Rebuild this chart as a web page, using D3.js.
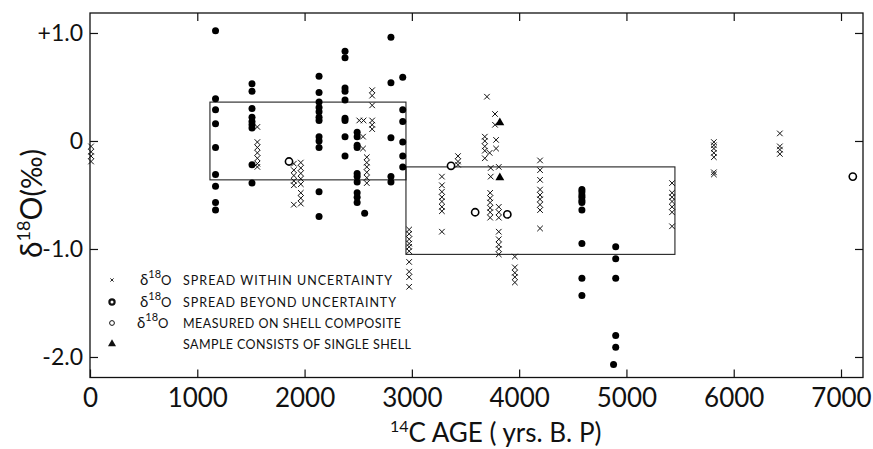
<!DOCTYPE html>
<html>
<head>
<meta charset="utf-8">
<script src="https://cdn.jsdelivr.net/npm/d3@7"></script>
<style>
  body { margin: 0; background: #fff; }
  svg text { font-family: Lato, "Open Sans", sans-serif; }
</style>
</head>
<body>
<svg id="chart" width="873" height="449"></svg>
<script>
// x: 14C age (yrs B.P.), y: delta 18O (permil)
const xTicks = [0, 1000, 2000, 3000, 4000, 5000, 6000, 7000];
const yTicks = [1, 0, -1, -2];
const yTickLabels = ['+1.0', '0', '-1.0', '-2.0'];

// x marks: spread within uncertainty
const spreadWithin = [
  [10, -0.05], [10, -0.10], [10, -0.14], [10, -0.19],
  [1560, 0.13], [1560, -0.01], [1560, -0.06], [1560, -0.11], [1560, -0.16], [1560, -0.21], [1560, -0.24],
  [1900, -0.21], [1900, -0.27], [1900, -0.32], [1900, -0.37], [1900, -0.41], [1900, -0.59],
  [1965, -0.20], [1965, -0.25], [1965, -0.30], [1965, -0.35], [1965, -0.40], [1965, -0.48], [1965, -0.53], [1965, -0.58],
  [2510, 0.19], [2550, 0.19], [2545, 0.04], [2545, -0.07],
  [2580, -0.15], [2580, -0.20], [2580, -0.24], [2580, -0.29], [2580, -0.34], [2580, -0.39],
  [2630, 0.47], [2630, 0.42], [2630, 0.33], [2630, 0.19], [2630, 0.15], [2630, 0.11],
  [2975, -0.82], [2975, -0.86], [2975, -0.91], [2975, -0.95], [2975, -0.98], [2975, -1.02],
  [2975, -1.12], [2975, -1.21], [2975, -1.26], [2975, -1.35],
  [3280, -0.33], [3280, -0.41], [3280, -0.47], [3280, -0.52], [3280, -0.56], [3280, -0.61], [3280, -0.65], [3280, -0.84],
  [3430, -0.14], [3430, -0.19], [3430, -0.22],
  [3700, 0.41], [3775, 0.25], [3775, 0.15],
  [3680, 0.04], [3680, 0.00], [3680, -0.05], [3680, -0.09], [3680, -0.16], [3725, -0.11],
  [3785, 0.01], [3785, -0.07], [3735, -0.25], [3735, -0.33], [3810, -0.24],
  [3730, -0.48], [3730, -0.53], [3730, -0.57], [3730, -0.62], [3730, -0.66], [3730, -0.71],
  [3810, -0.61], [3810, -0.66], [3810, -0.71], [3810, -0.84], [3810, -0.91], [3810, -0.96], [3810, -1.00], [3810, -1.05],
  [3960, -1.07], [3960, -1.17], [3960, -1.22], [3960, -1.26], [3960, -1.31],
  [4195, -0.18], [4195, -0.27], [4195, -0.36], [4195, -0.45], [4195, -0.50], [4195, -0.54], [4195, -0.59], [4195, -0.64], [4195, -0.81],
  [5425, -0.39], [5425, -0.48], [5425, -0.52], [5425, -0.56], [5425, -0.61], [5425, -0.66], [5425, -0.79],
  [5815, -0.01], [5815, -0.04], [5815, -0.07], [5815, -0.11], [5815, -0.15], [5815, -0.29], [5815, -0.31],
  [6430, 0.07], [6430, -0.05], [6430, -0.08], [6430, -0.12]
];

// filled dots: spread beyond uncertainty
const spreadBeyond = [
  [1170, 1.02], [1170, 0.39], [1170, 0.29], [1170, 0.16], [1170, -0.06], [1170, -0.31], [1170, -0.42], [1170, -0.57], [1170, -0.64],
  [1510, 0.53], [1510, 0.46], [1510, 0.30], [1510, 0.22], [1510, 0.18], [1510, 0.15], [1510, 0.12], [1510, -0.22], [1510, -0.39],
  [2135, 0.60], [2135, 0.45], [2135, 0.36], [2135, 0.31], [2135, 0.27], [2135, 0.22], [2135, 0.19], [2135, 0.04], [2135, 0.00],
  [2135, -0.06], [2135, -0.47], [2135, -0.70],
  [2377, 0.83], [2377, 0.77], [2377, 0.49], [2377, 0.46], [2377, 0.38], [2377, 0.21], [2377, 0.19], [2377, 0.04], [2377, -0.14],
  [2490, 0.08], [2490, 0.04], [2490, -0.04], [2490, -0.06], [2490, -0.30], [2490, -0.33], [2490, -0.38], [2490, -0.48],
  [2490, -0.52], [2490, -0.57], [2560, -0.67],
  [2805, 0.96], [2805, 0.54], [2805, 0.03], [2805, -0.33], [2805, -0.38],
  [2915, 0.59], [2915, 0.29], [2915, 0.18], [2915, -0.01], [2915, -0.14], [2915, -0.24],
  [4585, -0.45], [4585, -0.47], [4585, -0.50], [4585, -0.52], [4585, -0.55], [4585, -0.57], [4585, -0.64],
  [4585, -0.95], [4585, -1.27], [4585, -1.43],
  [4900, -0.98], [4900, -1.09], [4900, -1.27], [4900, -1.80], [4900, -1.91], [4880, -2.07]
];

// open circles: measured on shell composite
const composite = [[1855, -0.19], [3365, -0.23], [3590, -0.66], [3890, -0.68], [7110, -0.33]];

// triangles: sample consists of single shell
const singleShell = [[3820, 0.17], [3820, -0.34]];

// boxes: [ageFrom, ageTo, top, bottom]
const boxes = [[1118, 2945, 0.36, -0.36], [2945, 5452, -0.24, -1.05]];

const legendLabels = ['SPREAD WITHIN UNCERTAINTY', 'SPREAD BEYOND UNCERTAINTY', 'MEASURED ON SHELL COMPOSITE', 'SAMPLE CONSISTS OF SINGLE SHELL'];

const svg = d3.select('#chart');
const x = d3.scaleLinear().domain([0, 7205]).range([90, 863]);
const y = d3.scaleLinear().domain([-2.19, 1.185]).range([377.5, 13]);

// frame
svg.append('rect')
  .attr('x', x(0)).attr('y', y(1.185))
  .attr('width', x(7205) - x(0)).attr('height', y(-2.19) - y(1.185))
  .attr('fill', 'none').attr('stroke', '#111').attr('stroke-width', 1.3);

const bottom = svg.append('g').attr('transform', `translate(0,${y(-2.19)})`)
  .call(d3.axisBottom(x).tickValues(xTicks).tickSize(-8).tickPadding(11).tickFormat(d3.format('d')));
const left = svg.append('g').attr('transform', `translate(${x(0)},0)`)
  .call(d3.axisLeft(y).tickValues(yTicks).tickSize(-8).tickPadding(7).tickFormat((d, i) => yTickLabels[i]));
svg.append('g').attr('transform', `translate(0,${y(1.185)})`)
  .call(d3.axisTop(x).tickValues(xTicks.slice(1)).tickSize(-8).tickFormat(''));
svg.append('g').attr('transform', `translate(${x(7205)},0)`)
  .call(d3.axisRight(y).tickValues(yTicks).tickSize(-8).tickFormat(''));

svg.selectAll('.domain').remove();
svg.selectAll('.tick line').attr('stroke', '#111').attr('stroke-width', 1.2);
bottom.selectAll('text').attr('font-size', 26).attr('font-family', 'Lato').attr('fill', '#111');
left.selectAll('text').attr('font-size', 23).attr('font-family', 'Lato').attr('fill', '#111');

// boxes
svg.selectAll('.box').data(boxes).enter().append('rect')
  .attr('x', d => x(d[0])).attr('y', d => y(d[2]))
  .attr('width', d => x(d[1]) - x(d[0])).attr('height', d => y(d[3]) - y(d[2]))
  .attr('fill', 'none').attr('stroke', '#222').attr('stroke-width', 1.1);

// marks
svg.selectAll('.within').data(spreadWithin).enter().append('path')
  .attr('d', d3.symbol(d3.symbolTimes, 22))
  .attr('transform', d => `translate(${x(d[0])},${y(d[1])})`)
  .attr('fill', 'none').attr('stroke', '#111').attr('stroke-width', 1);

svg.selectAll('.beyond').data(spreadBeyond).enter().append('circle')
  .attr('cx', d => x(d[0])).attr('cy', d => y(d[1])).attr('r', 3.5).attr('fill', '#000');

svg.selectAll('.comp').data(composite).enter().append('circle')
  .attr('cx', d => x(d[0])).attr('cy', d => y(d[1])).attr('r', 3.6)
  .attr('fill', '#fff').attr('stroke', '#000').attr('stroke-width', 1.6);

svg.selectAll('.single').data(singleShell).enter().append('path')
  .attr('d', d3.symbol(d3.symbolTriangle, 34))
  .attr('transform', d => `translate(${x(d[0])},${y(d[1])})`)
  .attr('fill', '#000');

// legend
const legendY = [280, 302, 323, 344];
const legendW = [209, 213, 218, 228];
const lg = svg.append('g').attr('fill', '#111');
lg.append('path').attr('d', d3.symbol(d3.symbolTimes, 8)).attr('transform', `translate(112,${legendY[0]})`)
  .attr('fill', 'none').attr('stroke', '#111').attr('stroke-width', 0.9);
lg.append('circle').attr('cx', 112).attr('cy', legendY[1]).attr('r', 2.6).attr('fill', 'none').attr('stroke', '#111').attr('stroke-width', 2.2);
lg.append('circle').attr('cx', 112).attr('cy', legendY[2]).attr('r', 2.4).attr('fill', 'none').attr('stroke', '#111').attr('stroke-width', 1);
lg.append('path').attr('d', d3.symbol(d3.symbolTriangle, 28)).attr('transform', `translate(112,${legendY[3]})`);

legendLabels.forEach((label, i) => {
  if (i < 3) {
    const t = lg.append('text').attr('x', i === 2 ? 137 : 140).attr('y', legendY[i] + 5).attr('font-size', 15);
    t.append('tspan').text('δ');
    t.append('tspan').attr('dy', -7).attr('font-size', 11).text('18');
    t.append('tspan').attr('dy', 7).attr('font-size', 13).text('O');
  }
  lg.append('text').attr('x', 183).attr('y', legendY[i] + 5)
    .attr('font-size', 12.5)
    .attr('textLength', legendW[i]).attr('lengthAdjust', 'spacing')
    .text(label);
});

// axis titles
const xt = svg.append('text').attr('x', 390).attr('y', 442).attr('fill', '#111');
xt.append('tspan').attr('font-size', 16).attr('dy', -10).text('14');
xt.append('tspan').attr('font-size', 26).attr('dy', 10).text('C AGE ( yrs. B. P)');

const yt = svg.append('text').attr('transform', 'translate(42,258) rotate(-90)').attr('fill', '#111');
yt.append('tspan').attr('font-size', 30).text('δ');
yt.append('tspan').attr('font-size', 18).attr('dy', -12).text('18');
yt.append('tspan').attr('font-size', 30).attr('dy', 12).text('O');
yt.append('tspan').attr('font-size', 28).text('(‰)');
</script>
</body>
</html>
